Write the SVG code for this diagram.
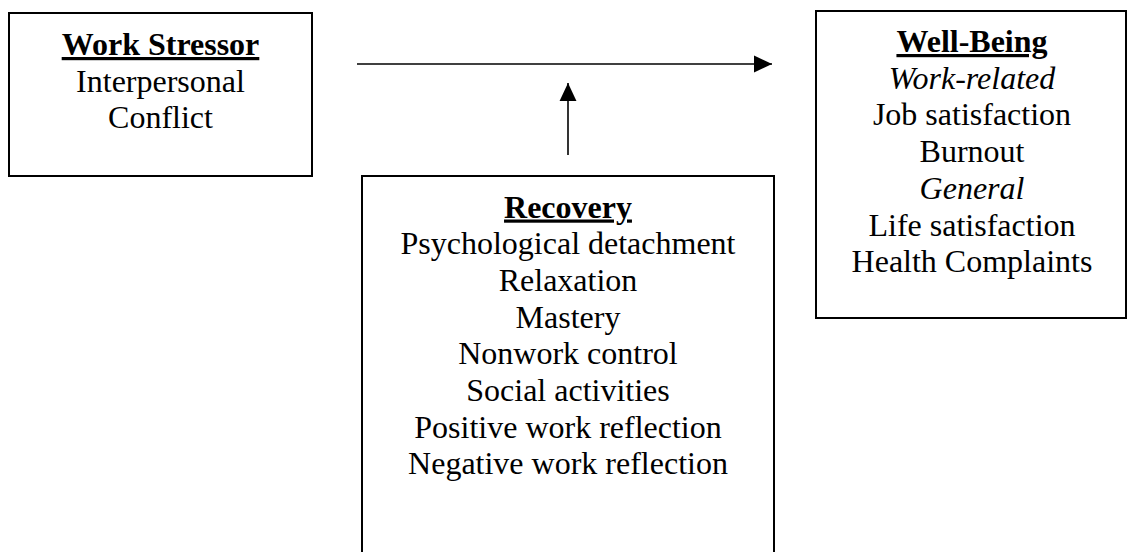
<svg xmlns="http://www.w3.org/2000/svg" width="1128" height="552" viewBox="0 0 1128 552">
<style>
.box{fill:#fff;stroke:#000;stroke-width:2}
.t{font-family:"Liberation Serif","Times New Roman",serif;font-size:32px;fill:#000;text-anchor:middle}
.h{font-weight:bold;text-decoration:underline}
.i{font-style:italic}
.c{stroke:#000;stroke-width:1.6;fill:none}
</style>
<defs>
<marker id="ah" markerUnits="userSpaceOnUse" markerWidth="18" markerHeight="18" viewBox="0 0 16 16" refX="16" refY="8" orient="auto">
<polygon points="0,0.5 16,8 0,15.5" fill="#000"/>
</marker>
</defs>
<rect width="1128" height="552" fill="#fff"/>
<g id="work-stressor">
<rect class="box" x="9" y="13" width="303" height="163"/>
<text class="t h" x="160.5" y="55">Work Stressor</text>
<text class="t" x="160.5" y="91.5">Interpersonal</text>
<text class="t" x="160.5" y="128">Conflict</text>
</g>
<g id="well-being">
<rect class="box" x="816" y="11" width="310" height="307"/>
<text class="t h" x="972" y="52">Well-Being</text>
<text class="t i" x="972" y="88.7">Work-related</text>
<text class="t" x="972" y="125.4">Job satisfaction</text>
<text class="t" x="972" y="162.1">Burnout</text>
<text class="t i" x="972" y="198.8">General</text>
<text class="t" x="972" y="235.5">Life satisfaction</text>
<text class="t" x="972" y="272.2">Health Complaints</text>
</g>
<g id="recovery">
<rect class="box" x="362" y="176" width="412" height="420"/>
<text class="t h" x="568" y="217.5">Recovery</text>
<text class="t" x="568" y="254.2">Psychological detachment</text>
<text class="t" x="568" y="290.9">Relaxation</text>
<text class="t" x="568" y="327.6">Mastery</text>
<text class="t" x="568" y="364.3">Nonwork control</text>
<text class="t" x="568" y="401">Social activities</text>
<text class="t" x="568" y="437.7">Positive work reflection</text>
<text class="t" x="568" y="474.4">Negative work reflection</text>
</g>
<g id="connectors">
<line class="c" x1="357" y1="64" x2="772" y2="64" marker-end="url(#ah)"/>
<line class="c" x1="568" y1="155" x2="568" y2="83" marker-end="url(#ah)"/>
</g>
</svg>
